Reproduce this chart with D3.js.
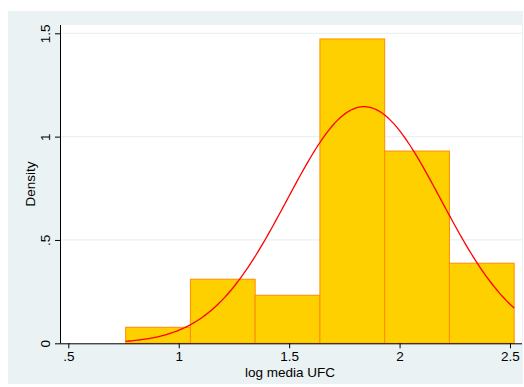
<!DOCTYPE html>
<html>
<head>
<meta charset="utf-8">
<script src="https://cdn.jsdelivr.net/npm/d3@7/dist/d3.min.js"></script>
<style>
  html, body { margin: 0; padding: 0; background: #ffffff; }
  svg { display: block; font-family: "Liberation Sans", Arial, sans-serif; }
</style>
</head>
<body>
<svg id="chart" width="524" height="387"></svg>
<script>
// Histogram of log media UFC, density scale, with a fitted normal curve
const binEdges = [0.7597, 1.0529, 1.3461, 1.6393, 1.9325, 2.2257, 2.5189];
const densities = [0.0775, 0.310, 0.2325, 1.4728, 0.9302, 0.3876];
const xTicks = [0.5, 1, 1.5, 2, 2.5];
const xTickLabels = [".5", "1", "1.5", "2", "2.5"];
const yTicks = [0, 0.5, 1, 1.5];
const yTickLabels = ["0", ".5", "1", "1.5"];
const normalMean = 1.839;
const normalSd = 0.3484;

const svg = d3.select("#chart");

// graph region and plot region
svg.append("rect").attr("x", 8).attr("y", 11).attr("width", 515).attr("height", 373)
  .attr("fill", "#eaf2f3");
svg.append("rect").attr("x", 60).attr("y", 25).attr("width", 462).attr("height", 318)
  .attr("fill", "#ffffff");

const x = d3.scaleLinear().domain([0.5, 2.5]).range([68.3, 510]);
const y = d3.scaleLinear().domain([0, 1.5]).range([343.3, 33.3]);

// horizontal grid lines
svg.append("g").selectAll("line").data(yTicks.filter(d => d > 0)).join("line")
  .attr("x1", 60).attr("x2", 522)
  .attr("y1", d => y(d)).attr("y2", d => y(d))
  .attr("stroke", "#eaf2f3").attr("stroke-width", 1.2);

// bars
const bins = densities.map((d, i) => ({ x0: binEdges[i], x1: binEdges[i + 1], v: d }));
svg.append("g").selectAll("rect").data(bins).join("rect")
  .attr("x", d => x(d.x0))
  .attr("y", d => y(d.v))
  .attr("width", d => x(d.x1) - x(d.x0))
  .attr("height", d => y(0) - y(d.v))
  .attr("fill", "#ffd000")
  .attr("stroke", "#ff8c00")
  .attr("stroke-width", 1);

// normal density over the data range
const pdf = v => Math.exp(-0.5 * ((v - normalMean) / normalSd) ** 2) / (normalSd * Math.sqrt(2 * Math.PI));
const xs = d3.range(0, 201).map(i => binEdges[0] + (binEdges[binEdges.length - 1] - binEdges[0]) * i / 200);
svg.append("path")
  .datum(xs)
  .attr("fill", "none")
  .attr("stroke", "#ff0000")
  .attr("stroke-width", 1.3)
  .attr("d", d3.line().x(d => x(d)).y(d => y(pdf(d))));

// axes
const xAxis = d3.axisBottom(x).tickValues(xTicks).tickSize(5).tickPadding(3)
  .tickFormat((d, i) => xTickLabels[i]);
const gx = svg.append("g").attr("transform", `translate(0,${y(0)})`).call(xAxis);
gx.select(".domain").attr("d", `M60,0.5H522`).attr("stroke", "#000");
gx.selectAll(".tick line").attr("stroke", "#000");
gx.selectAll("text").attr("font-size", 13.5).attr("fill", "#000")
  .attr("font-family", "Liberation Sans, Arial, sans-serif");

const yAxis = d3.axisLeft(y).tickValues(yTicks).tickSize(5).tickPadding(0)
  .tickFormat((d, i) => yTickLabels[i]);
const gy = svg.append("g").attr("transform", `translate(60,0)`).call(yAxis);
gy.select(".domain").attr("d", `M0.5,25V343.3`).attr("stroke", "#000");
gy.selectAll(".tick line").attr("stroke", "#000");
gy.selectAll("text")
  .attr("x", null).attr("dy", null)
  .attr("text-anchor", "middle")
  .attr("transform", "translate(-10,0) rotate(-90)")
  .attr("font-size", 13.5).attr("fill", "#000")
  .attr("font-family", "Liberation Sans, Arial, sans-serif");

// axis titles
svg.append("text").attr("x", 290).attr("y", 377)
  .attr("text-anchor", "middle").attr("font-size", 13.5).attr("fill", "#000")
  .text("log media UFC");
svg.append("text").attr("transform", "translate(35,184) rotate(-90)")
  .attr("text-anchor", "middle").attr("font-size", 13.5).attr("fill", "#000")
  .text("Density");
</script>
</body>
</html>
